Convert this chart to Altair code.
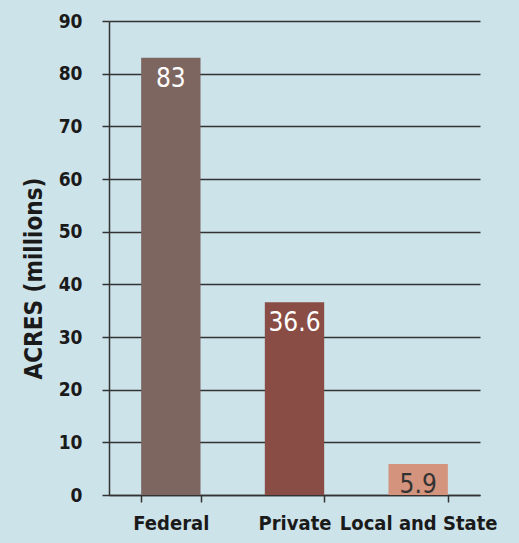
import altair as alt
import pandas as pd

categories = ["Federal", "Private", "Local and State"]
acres = [83, 36.6, 5.9]
labels = ["83", "36.6", "5.9"]
bar_colors = ["#7d6560", "#8a4d46", "#d4937c"]
label_colors = ["#ffffff", "#ffffff", "#333333"]

df = pd.DataFrame({"cat": categories, "acres": acres, "label": labels,
                   "color": bar_colors, "lcolor": label_colors})

FONT = "DejaVu Sans Condensed, Liberation Sans Narrow, sans-serif"

x = alt.X("cat:N", sort=categories, title=None,
          scale=alt.Scale(paddingInner=0.52, paddingOuter=0.26),
          axis=alt.Axis(labelAngle=0, tickBand="extent", labelFontSize=20,
                        labelFontWeight="bold",
                        labelFont=FONT, labelColor="#1a1a1a", labelPadding=11,
                        domainColor="#333333", domainWidth=1.5,
                        tickColor="#333333", tickWidth=1.5, tickSize=7,
                        grid=False))
y = alt.Y("acres:Q", title="ACRES (millions)",
          scale=alt.Scale(domain=[0, 90], nice=False),
          axis=alt.Axis(values=list(range(0, 100, 10)), labelFontSize=19,
                        labelFontWeight="bold",
                        labelFont=FONT, labelColor="#1a1a1a", labelPadding=20,
                        titleFont=FONT, titleFontSize=24, titleFontWeight="bold",
                        titleColor="#1a1a1a", titlePadding=12, titleY=257,
                        domainColor="#333333", domainWidth=1.5,
                        tickColor="#333333", tickWidth=1.5, tickSize=7,
                        grid=True, gridColor="#333333", gridWidth=1.5))

bars = alt.Chart(df).mark_bar().encode(
    x=x, y=y, color=alt.Color("color:N", scale=None)
)
text = alt.Chart(df).mark_text(baseline="top", dy=8, fontSize=26, font=FONT).encode(
    x=alt.X("cat:N", sort=categories),
    y=alt.Y("acres:Q"),
    text="label:N",
    color=alt.Color("lcolor:N", scale=None),
)

chart = (bars + text).properties(
    width=371, height=474,
    background="#cde3ea",
    autosize=alt.AutoSizeParams(type="none"),
    padding={"left": 109, "top": 21, "right": 39, "bottom": 48},
).configure_view(stroke=None)

chart.save("out.html", embed_options={"renderer": "svg", "actions": False})
